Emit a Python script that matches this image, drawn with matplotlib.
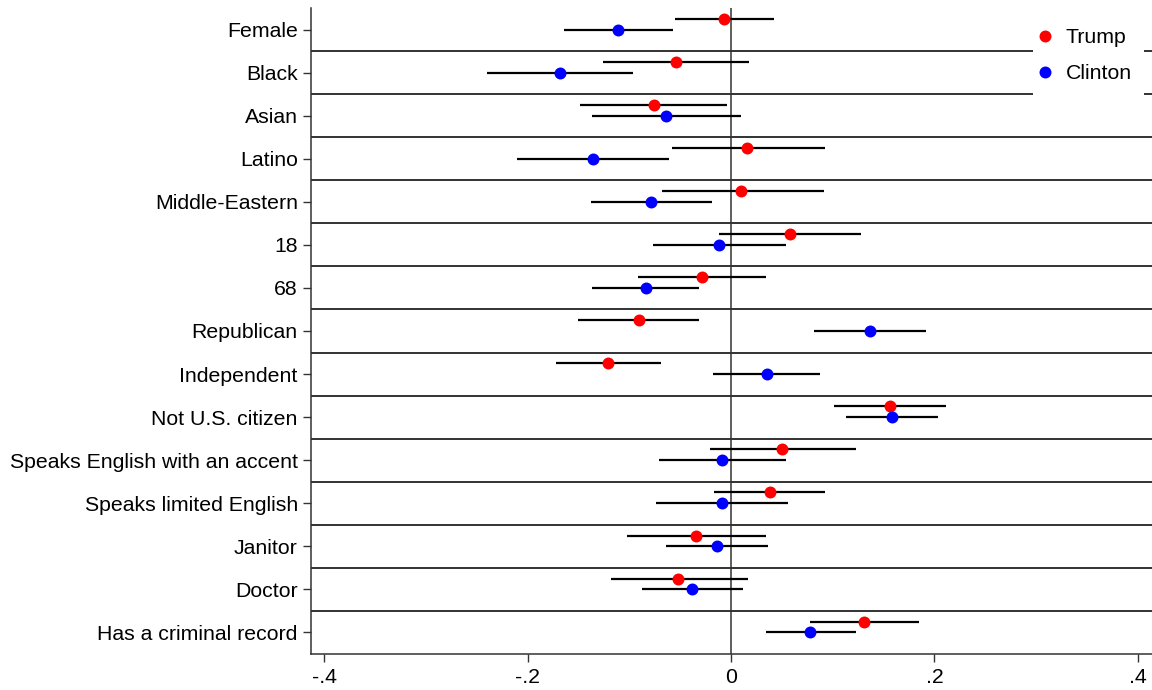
import matplotlib
matplotlib.use('Agg')
import matplotlib.pyplot as plt
from matplotlib.ticker import FuncFormatter
from matplotlib.patches import Rectangle
import numpy as np

# ---- data ----
labels = ['Female', 'Black', 'Asian', 'Latino', 'Middle-Eastern', '18', '68',
          'Republican', 'Independent', 'Not U.S. citizen',
          'Speaks English with an accent', 'Speaks limited English',
          'Janitor', 'Doctor', 'Has a criminal record']

trump_est = [-0.007, -0.054, -0.076, 0.016, 0.010, 0.058, -0.029,
             -0.090, -0.121, 0.156, 0.050, 0.038, -0.034, -0.052, 0.131]
trump_lo = [-0.055, -0.126, -0.148, -0.058, -0.068, -0.012, -0.091,
            -0.150, -0.172, 0.101, -0.021, -0.017, -0.102, -0.118, 0.078]
trump_hi = [0.042, 0.018, -0.004, 0.092, 0.091, 0.128, 0.034,
            -0.031, -0.069, 0.211, 0.123, 0.092, 0.034, 0.017, 0.185]

clinton_est = [-0.111, -0.168, -0.064, -0.136, -0.079, -0.012, -0.084,
               0.137, 0.035, 0.158, -0.009, -0.009, -0.014, -0.038, 0.078]
clinton_lo = [-0.164, -0.240, -0.137, -0.210, -0.138, -0.077, -0.137,
              0.082, -0.018, 0.113, -0.071, -0.074, -0.064, -0.088, 0.034]
clinton_hi = [-0.057, -0.096, 0.010, -0.061, -0.019, 0.054, -0.031,
              0.192, 0.088, 0.204, 0.054, 0.056, 0.036, 0.012, 0.123]

xticks = [-0.4, -0.2, 0, 0.2, 0.4]

FS = 15.3
plt.rcParams.update({
    'font.family': ['Liberation Sans', 'DejaVu Sans'],
    'font.size': FS,
})

W, H = 1152, 690
fig = plt.figure(figsize=(W / 100, H / 100), dpi=100)
ax = fig.add_axes([311 / W, 1 - 654 / H, 1 - 311 / W, (654 - 8) / H])

y = np.arange(len(labels))
y_trump = y - 0.25

# row separators and zero line
for yy in y[:-1] + 0.5:
    ax.axhline(yy, color='#222222', lw=1.3, zorder=1)
ax.axvline(0, color='#333333', lw=1.1, zorder=1)

# white patch behind the legend (cuts the separators like the original)
ax.add_patch(Rectangle((1033 / W, 1 - 98 / H), 111 / W, 90 / H,
                       transform=fig.transFigure, facecolor='white',
                       edgecolor='none', zorder=1.5, clip_on=False))

ax.hlines(y_trump, trump_lo, trump_hi, color='black', lw=1.6, zorder=2)
ax.hlines(y, clinton_lo, clinton_hi, color='black', lw=1.6, zorder=2)
ax.plot(trump_est, y_trump, 'o', color='#FF0000', ms=8.6, mec='none',
        zorder=3, label='Trump')
ax.plot(clinton_est, y, 'o', color='#0000FF', ms=8.6, mec='none',
        zorder=3, label='Clinton')

ax.set_ylim(len(labels) - 0.5, -0.5)
ax.set_xlim(-0.413, 0.414)
ax.set_yticks(y)
ax.set_yticklabels(labels)
ax.set_xticks(xticks)


def fmt(v, pos):
    s = '%g' % round(v, 2)
    return s.replace('0.', '.')


ax.xaxis.set_major_formatter(FuncFormatter(fmt))
ax.tick_params(axis='both', length=6, width=1.0, color='#333333',
               labelsize=FS)
ax.tick_params(axis='x', pad=4)
for s in ['top', 'right']:
    ax.spines[s].set_visible(False)
for s in ['left', 'bottom']:
    ax.spines[s].set_color('#333333')
    ax.spines[s].set_linewidth(1.1)

leg = ax.legend(loc='upper left', bbox_to_anchor=(1034 / W, 1 - 28 / H),
                bbox_transform=fig.transFigure, frameon=False, fontsize=FS,
                borderpad=0, borderaxespad=0, handlelength=1.0,
                handletextpad=0.5, labelspacing=0.8)
leg.set_zorder(4)

fig.savefig('out.png', dpi=100)
